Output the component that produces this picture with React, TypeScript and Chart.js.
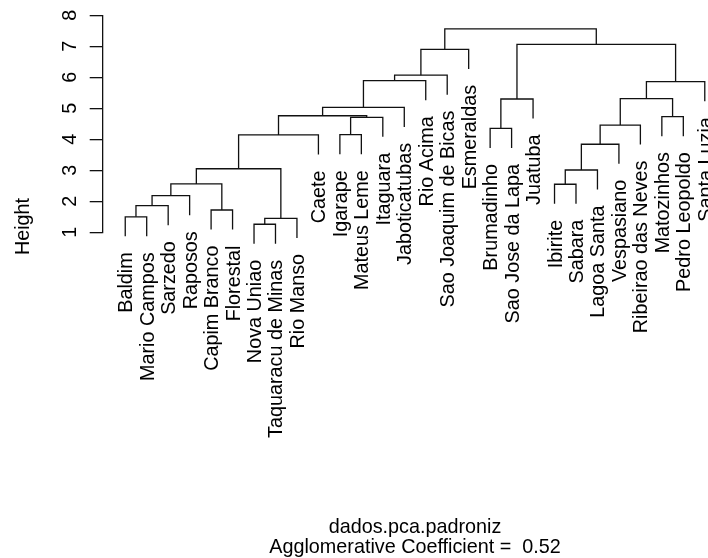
import React, { useEffect, useRef } from "react";
import { Chart, registerables } from "chart.js";

Chart.register(...registerables);

// Leaves in dendrogram display order
const leafLabels: string[] = [
  "Baldim", "Mario Campos", "Sarzedo", "Raposos", "Capim Branco", "Florestal",
  "Nova Uniao", "Taquaracu de Minas", "Rio Manso", "Caete", "Igarape", "Mateus Leme",
  "Itaguara", "Jaboticatubas", "Rio Acima", "Sao Joaquim de Bicas", "Esmeraldas",
  "Brumadinho", "Sao Jose da Lapa", "Juatuba", "Ibirite", "Sabara", "Lagoa Santa",
  "Vespasiano", "Ribeirao das Neves", "Matozinhos", "Pedro Leopoldo", "Santa Luzia",
];

// hclust-style merges: negative = leaf (1-based display position), positive = earlier merge
const mergeLeft: number[] = [-7, 1, -1, -5, 3, 5, -21, 6, 7, 8, 9, 10, -11, -18, 11, 13, -26, 12, 18, 14, 15, 21, 19, 23, 24, 20, 25];
const mergeRight: number[] = [-8, -9, -2, -6, -3, -4, -22, 4, -23, 2, -24, -10, -12, -19, -25, -13, -27, 16, -14, -20, 17, -28, -15, -16, -17, 22, 26];
const mergeHeight: number[] = [1.26, 1.45, 1.5, 1.72, 1.86, 2.18, 2.55, 2.56, 3.01, 3.05, 3.84, 4.14, 4.15, 4.35, 4.46, 4.71, 4.73, 4.76, 5.03, 5.3, 5.31, 5.86, 5.89, 6.07, 6.9, 7.06, 7.56];

const yTicks: number[] = [1, 2, 3, 4, 5, 6, 7, 8];
const yLabel = "Height";
const subLine1 = "dados.pca.padroniz";
const subLine2 = "Agglomerative Coefficient =  0.52";

const FONT = '19.8px "Liberation Sans", Arial, Helvetica, sans-serif';

function buildTree() {
  const hang = 0.1 * (Math.max(...mergeHeight) - Math.min(...mergeHeight));
  const nodeX: number[] = [];
  const leafBottom: number[] = new Array(leafLabels.length).fill(0);
  const segments: { x: number; y: number }[][] = [];
  const childPos = (ref: number, parentH: number) => {
    if (ref < 0) {
      const i = -ref - 1;
      leafBottom[i] = parentH - hang;
      return { x: i, y: parentH - hang };
    }
    return { x: nodeX[ref - 1], y: mergeHeight[ref - 1] };
  };
  for (let k = 0; k < mergeHeight.length; k++) {
    const h = mergeHeight[k];
    const l = childPos(mergeLeft[k], h);
    const r = childPos(mergeRight[k], h);
    nodeX[k] = (l.x + r.x) / 2;
    segments.push([
      { x: l.x, y: l.y },
      { x: l.x, y: h },
      { x: r.x, y: h },
      { x: r.x, y: r.y },
    ]);
  }
  return { segments, leafBottom };
}

export default function App() {
  const ref = useRef<HTMLCanvasElement | null>(null);

  useEffect(() => {
    const canvas = ref.current;
    if (!canvas) return;
    const { segments, leafBottom } = buildTree();

    const textPlugin = {
      id: "dendroText",
      afterDraw(chart: any) {
        const ctx = chart.ctx as CanvasRenderingContext2D;
        const xs = chart.scales.x;
        const ys = chart.scales.y;
        ctx.save();
        ctx.fillStyle = "#000";
        ctx.font = FONT;
        // leaf labels
        leafLabels.forEach((lab, i) => {
          const px = xs.getPixelForValue(i);
          const py = ys.getPixelForValue(leafBottom[i]);
          ctx.save();
          ctx.translate(px + 7, py + 16);
          ctx.rotate(-Math.PI / 2);
          ctx.textAlign = "right";
          ctx.textBaseline = "alphabetic";
          ctx.fillText(lab, 0, 0);
          ctx.restore();
        });
        // y tick labels
        ys.ticks.forEach((t: any) => {
          const py = ys.getPixelForValue(t.value);
          ctx.save();
          ctx.translate(75.5, py);
          ctx.rotate(-Math.PI / 2);
          ctx.textAlign = "center";
          ctx.textBaseline = "alphabetic";
          ctx.fillText(String(t.value), 0, 0);
          ctx.restore();
        });
        // y axis title
        ctx.save();
        ctx.translate(29, 226.5);
        ctx.rotate(-Math.PI / 2);
        ctx.textAlign = "center";
        ctx.textBaseline = "alphabetic";
        ctx.fillText(yLabel, 0, 0);
        ctx.restore();
        // sub title
        const cx = xs.getPixelForValue((leafLabels.length - 1) / 2);
        ctx.textAlign = "center";
        ctx.textBaseline = "alphabetic";
        ctx.fillText(subLine1, cx, 533);
        ctx.fillText(subLine2, cx, 553);
        ctx.restore();
      },
    };

    const chart = new Chart(canvas, {
      type: "scatter",
      data: {
        datasets: segments.map((seg) => ({
          data: seg,
          showLine: true,
          borderColor: "#111",
          borderWidth: 1.3,
          pointRadius: 0,
          tension: 0,
          clip: false as any,
        })),
      },
      options: {
        responsive: false,
        animation: false,
        events: [],
        layout: { padding: { top: 15.3, bottom: 325.7, left: 0, right: 0 } },
        plugins: {
          legend: { display: false },
          tooltip: { enabled: false },
          title: { display: false },
        },
        scales: {
          x: {
            type: "linear",
            display: false,
            min: -1.05,
            max: 27.15,
          },
          y: {
            type: "linear",
            min: yTicks[0],
            max: yTicks[yTicks.length - 1],
            afterBuildTicks: (scale: any) => {
              scale.ticks = yTicks.map((v) => ({ value: v }));
            },
            afterFit: (scale: any) => {
              scale.width = 102.7;
            },
            ticks: { display: false },
            grid: {
              drawOnChartArea: false,
              drawTicks: true,
              tickLength: 13,
              color: "#111",
              lineWidth: 1.3,
            },
            border: { display: true, color: "#111", width: 1.3 },
          },
        },
      },
      plugins: [textPlugin],
    });
    return () => chart.destroy();
  }, []);

  return (
    <div style={{ position: "fixed", left: 0, top: 0, width: 708, height: 558, background: "#fff", overflow: "hidden" }}>
      <canvas ref={ref} width={708} height={558} style={{ display: "block", width: 708, height: 558 }} />
    </div>
  );
}
